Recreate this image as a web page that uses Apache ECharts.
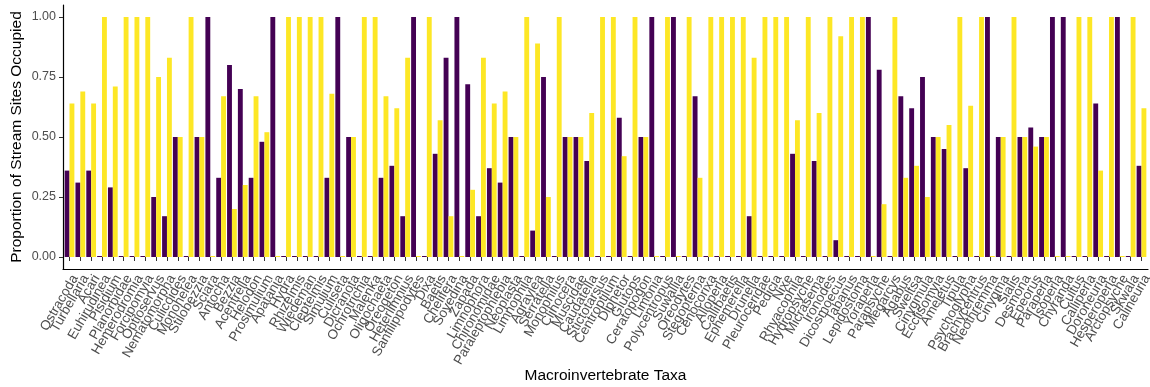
<!DOCTYPE html>
<html>
<head>
<meta charset="utf-8">
<script src="https://cdn.jsdelivr.net/npm/echarts@6/dist/echarts.min.js"></script>
<style>
  html, body { margin: 0; padding: 0; background: #ffffff; }
  #chart { width: 1150px; height: 387px; }
</style>
</head>
<body>
<div id="chart"></div>
<script>
// ---- Data ----
const categories = [
  "Ostracoda","Turbellaria","Acari","Euhirudinea","Pisidium","Planorbidae","Hemerodromia","Forcipomyia","Optioservus","Nematomorpha",
  "Culicoides","Monohelea","Stilobezzia","Sciara","Antocha","Bezzia","Acentrella","Helodon","Prosimulium","Apatania",
  "Hydra","Rhizelmis","Wiedeman","Cleptelmis","Simulium","Culiseta","Dicranota","Ochrotrichia","Malenka","Oligochaeta",
  "Oreogeton","Heterlimnius","Sanfilippodytes","Dixa","Baetis","Chelifera","Soyedina","Zapada","Limnophora","Chironomidae",
  "Paraleptophlebia","Neoplasta","Limnophila","Agraylea","Serratella","Monophilus","Clinocera","Muscidae","Caudatella","Stictotarsus",
  "Centroptilum","Diphetor","Glutops","Ceratopogon","Limonia","Polycentropus","Suwallia","Oreodytes","Stegopterna","Cenocorixa",
  "Alloperla","Callibaetis","Ephemerella","Drunella","Pleuroceridae","Pedicia","Nixe","Rhyacophila","Hydropsyche","Micrasema",
  "Ironodes","Dicosmoecus","Tabanus","Lepidostoma","Yoraperla","Parapsyche","Megarcys","Agabus","Sweltsa","Cinygmula",
  "Ecclisomyia","Ameletus","Tipula","Psychoglypha","Brachycentrus","Neothremma","Cinygma","Sialis","Desmona","Epeorus",
  "Paraperla","Isoperla","Chyranda","Cultus","Calliperla","Doroneuria","Hesperoperla","Arctopsyche","Skwala","Calineuria"
];

// dark purple series
const groupA = [
  0.36,0.31,0.36,0,0.29,0,0,0,0.25,0.17,
  0.50,0,0.50,1,0.33,0.80,0.70,0.33,0.48,1,
  0,0,0,0,0.33,1,0.50,0,0,0.33,
  0.38,0.17,1,0,0.43,0.83,1,0.72,0.17,0.37,
  0.31,0.50,0,0.11,0.75,0,0.50,0.50,0.40,0,
  0,0.58,0,0.50,1,0,1,0,0.67,0,
  0,0,0,0.17,0,0,0,0.43,0,0.40,
  0,0.07,0,0,1,0.78,0,0.67,0.62,0.75,
  0.50,0.45,0,0.37,0,1,0.50,0,0.50,0.54,
  0.50,1,1,0,0,0.64,0,1,0,0.38
];

// yellow series
const groupB = [
  0.64,0.69,0.64,1,0.71,1,1,1,0.75,0.83,
  0.50,1,0.50,0,0.67,0.20,0.30,0.67,0.52,0,
  1,1,1,1,0.68,0,0.50,1,1,0.67,
  0.62,0.83,0,1,0.57,0.17,0,0.28,0.83,0.64,
  0.69,0.50,1,0.89,0.25,1,0.50,0.50,0.60,1,
  1,0.42,1,0.50,0,1,0,1,0.33,1,
  1,1,1,0.83,1,1,1,0.57,1,0.60,
  1,0.92,1,1,0,0.22,1,0.33,0.38,0.25,
  0.50,0.55,1,0.63,1,0,0.50,1,0.50,0.46,
  0.50,0,0,1,1,0.36,1,0,1,0.62
];

const yTicks = [0, 0.25, 0.5, 0.75, 1];

const chart = echarts.init(document.getElementById('chart'), null, { renderer: 'canvas' });
const FONT = 'Liberation Sans, Arial, sans-serif';
const TXT = '#4D4D4D';
const LABEL_SHIFT = 5.5;

chart.setOption({
  animation: false,
  backgroundColor: '#ffffff',
  grid: [
    // data panel
    { left: 64.1, right: 3.1, top: 17, bottom: 130, containLabel: false, outerBoundsMode: 'none' },
    // full panel for axis lines
    { left: 63, right: 2, top: 5, bottom: 118, containLabel: false, outerBoundsMode: 'none' },
    // label panel (ggplot-style top-right anchoring of rotated labels)
    { left: 64.1 + LABEL_SHIFT, right: 3.1 - LABEL_SHIFT, top: 17, bottom: 130, containLabel: false, outerBoundsMode: 'none' }
  ],
  xAxis: [
    {
      type: 'category', gridIndex: 0, data: categories, offset: 12,
      boundaryGap: true,
      axisLine: { show: false },
      axisTick: { show: true, alignWithLabel: true, interval: 0, length: 4, lineStyle: { color: '#333333', width: 1 } },
      axisLabel: { show: true, interval: 0, color: 'rgba(0,0,0,0)', fontSize: 1 },
      splitLine: { show: false },
      name: 'Macroinvertebrate Taxa', nameLocation: 'middle', nameGap: 99, nameMoveOverlap: false,
      nameTextStyle: { fontSize: 15.5, color: '#000000', fontFamily: FONT }
    },
    {
      type: 'category', gridIndex: 1, data: categories,
      axisLine: { show: true, lineStyle: { color: '#000000', width: 1.2 } },
      axisTick: { show: false }, axisLabel: { show: false }, splitLine: { show: false }
    },
    {
      type: 'category', gridIndex: 2, data: categories, offset: 16,
      axisLine: { show: false }, axisTick: { show: false }, splitLine: { show: false },
      axisLabel: { interval: 0, rotate: 60, fontSize: 13.5, color: TXT, fontFamily: FONT, margin: 3 }
    }
  ],
  yAxis: [
    {
      type: 'value', gridIndex: 0, min: 0, max: 1, interval: 0.25, offset: 1.1,
      axisLine: { show: false },
      axisTick: { show: true, length: 4, lineStyle: { color: '#333333', width: 1 } },
      axisLabel: {
        fontSize: 12.5, color: TXT, fontFamily: FONT, margin: 7,
        formatter: v => yTicks.indexOf(v) >= 0 ? v.toFixed(2) : ''
      },
      splitLine: { show: false },
      name: 'Proportion of Stream Sites Occupied', nameLocation: 'middle', nameRotate: 90, nameGap: 38,
      nameMoveOverlap: false,
      nameTextStyle: { fontSize: 15.5, color: '#000000', fontFamily: FONT }
    },
    {
      type: 'value', gridIndex: 1, min: 0, max: 1,
      axisLine: { show: true, lineStyle: { color: '#000000', width: 1.2 } },
      axisTick: { show: false }, axisLabel: { show: false }, splitLine: { show: false }
    },
    {
      type: 'value', gridIndex: 2, min: 0, max: 1, show: false
    }
  ],
  series: [
    {
      name: 'Group A', type: 'bar', xAxisIndex: 0, yAxisIndex: 0, data: groupA,
      barWidth: '45%', barGap: '0%', barMinHeight: 1,
      itemStyle: { color: '#440154' }
    },
    {
      name: 'Group B', type: 'bar', xAxisIndex: 0, yAxisIndex: 0, data: groupB,
      barWidth: '45%', barGap: '0%', barMinHeight: 1,
      itemStyle: { color: '#FDE725' }
    }
  ]
});
</script>
</body>
</html>
